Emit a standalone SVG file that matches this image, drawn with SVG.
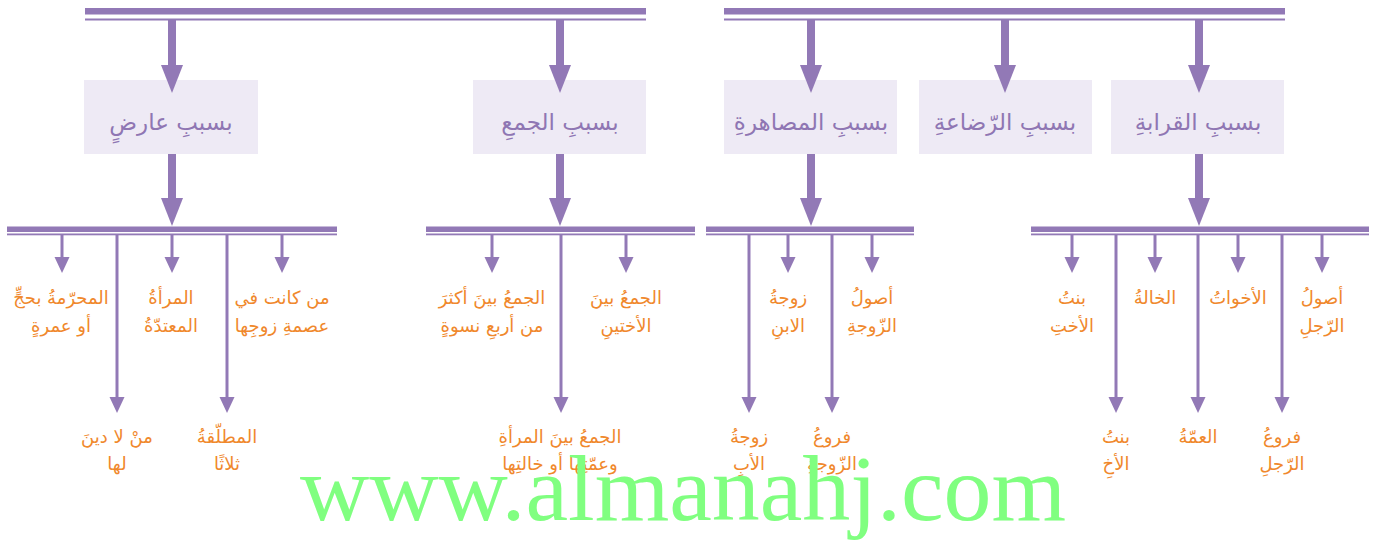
<svg xmlns="http://www.w3.org/2000/svg" width="1379" height="541" viewBox="0 0 1379 541">
  <defs>
    <style>
      .bar { fill: #9279b6; }
      .box { fill: #eeeaf5; }
      .box-text { font-family: "DejaVu Sans", "Noto Sans", sans-serif; font-size: 23px; fill: #8f76b3; text-anchor: middle; }
      .label { font-family: "DejaVu Sans", "Noto Sans", sans-serif; font-size: 18px; fill: #f0882c; text-anchor: middle; }
      .main { stroke: #9279b6; stroke-width: 8; fill: none; }
      .child { stroke: #9279b6; stroke-width: 3; fill: none; }
      .mark { font-family: "Liberation Serif", "Times New Roman", serif; font-size: 94px; fill: #80ff80; }
    </style>
    <marker id="head-main" markerUnits="userSpaceOnUse" markerWidth="30" markerHeight="24" viewBox="0 -12 30 24" refX="0" refY="0" orient="auto">
      <path d="M0,-11 L28,0 L0,11 Z" fill="#9279b6"/>
    </marker>
    <marker id="head-child" markerUnits="userSpaceOnUse" markerWidth="18" markerHeight="18" viewBox="0 -9 18 18" refX="0" refY="0" orient="auto">
      <path d="M0,-7.5 L16,0 L0,7.5 Z" fill="#9279b6"/>
    </marker>
  </defs>

  <!-- top double bars -->
  <g id="top-bars">
    <rect class="bar" x="85" y="8" width="561" height="6.5"/>
    <rect class="bar" x="85" y="18.5" width="561" height="2"/>
    <rect class="bar" x="724" y="8" width="561" height="6.5"/>
    <rect class="bar" x="724" y="18.5" width="561" height="2"/>
  </g>

  <!-- branch double bars -->
  <g id="branch-bars">
    <rect class="bar" x="7" y="226.5" width="330" height="5.5"/>
    <rect class="bar" x="7" y="233.5" width="330" height="1.8"/>
    <rect class="bar" x="426" y="226.5" width="269" height="5.5"/>
    <rect class="bar" x="426" y="233.5" width="269" height="1.8"/>
    <rect class="bar" x="706" y="226.5" width="208" height="5.5"/>
    <rect class="bar" x="706" y="233.5" width="208" height="1.8"/>
    <rect class="bar" x="1031" y="226.5" width="338" height="5.5"/>
    <rect class="bar" x="1031" y="233.5" width="338" height="1.8"/>
  </g>

  <!-- category boxes -->
  <g id="node-aarid">
    <rect class="box" x="84" y="80" width="174" height="74"/>
    <text class="box-text" x="171" y="130">بسببِ عارضٍ</text>
  </g>
  <g id="node-jam">
    <rect class="box" x="473" y="80" width="173" height="74"/>
    <text class="box-text" x="560" y="130">بسببِ الجمعِ</text>
  </g>
  <g id="node-musahara">
    <rect class="box" x="724" y="80" width="173" height="74"/>
    <text class="box-text" x="811" y="130">بسببِ المصاهرةِ</text>
  </g>
  <g id="node-rada">
    <rect class="box" x="919" y="80" width="173" height="74"/>
    <text class="box-text" x="1005" y="130">بسببِ الرّضاعةِ</text>
  </g>
  <g id="node-qaraba">
    <rect class="box" x="1111" y="80" width="173" height="74"/>
    <text class="box-text" x="1198" y="130">بسببِ القرابةِ</text>
  </g>

  <!-- connectors -->
  <g id="connectors">
    <!-- top bars to boxes -->
    <line class="main" x1="172" y1="20" x2="172" y2="65" marker-end="url(#head-main)"/>
    <line class="main" x1="560" y1="20" x2="560" y2="65" marker-end="url(#head-main)"/>
    <line class="main" x1="811" y1="20" x2="811" y2="65" marker-end="url(#head-main)"/>
    <line class="main" x1="1005" y1="20" x2="1005" y2="65" marker-end="url(#head-main)"/>
    <line class="main" x1="1199" y1="20" x2="1199" y2="65" marker-end="url(#head-main)"/>
    <!-- boxes to branch bars -->
    <line class="main" x1="172" y1="154" x2="172" y2="198" marker-end="url(#head-main)"/>
    <line class="main" x1="560" y1="154" x2="560" y2="198" marker-end="url(#head-main)"/>
    <line class="main" x1="811" y1="154" x2="811" y2="198" marker-end="url(#head-main)"/>
    <line class="main" x1="1199" y1="154" x2="1199" y2="198" marker-end="url(#head-main)"/>

    <!-- branch: عارض -->
    <line class="child" x1="62" y1="235" x2="62" y2="257" marker-end="url(#head-child)"/>
    <line class="child" x1="117" y1="235" x2="117" y2="397" marker-end="url(#head-child)"/>
    <line class="child" x1="172" y1="235" x2="172" y2="257" marker-end="url(#head-child)"/>
    <line class="child" x1="227" y1="235" x2="227" y2="397" marker-end="url(#head-child)"/>
    <line class="child" x1="282" y1="235" x2="282" y2="257" marker-end="url(#head-child)"/>

    <!-- branch: الجمع -->
    <line class="child" x1="492" y1="235" x2="492" y2="257" marker-end="url(#head-child)"/>
    <line class="child" x1="561" y1="235" x2="561" y2="397" marker-end="url(#head-child)"/>
    <line class="child" x1="626" y1="235" x2="626" y2="257" marker-end="url(#head-child)"/>

    <!-- branch: المصاهرة -->
    <line class="child" x1="749" y1="235" x2="749" y2="397" marker-end="url(#head-child)"/>
    <line class="child" x1="788" y1="235" x2="788" y2="257" marker-end="url(#head-child)"/>
    <line class="child" x1="832" y1="235" x2="832" y2="397" marker-end="url(#head-child)"/>
    <line class="child" x1="872" y1="235" x2="872" y2="257" marker-end="url(#head-child)"/>

    <!-- branch: القرابة -->
    <line class="child" x1="1072" y1="235" x2="1072" y2="257" marker-end="url(#head-child)"/>
    <line class="child" x1="1116" y1="235" x2="1116" y2="397" marker-end="url(#head-child)"/>
    <line class="child" x1="1155" y1="235" x2="1155" y2="257" marker-end="url(#head-child)"/>
    <line class="child" x1="1198" y1="235" x2="1198" y2="397" marker-end="url(#head-child)"/>
    <line class="child" x1="1238" y1="235" x2="1238" y2="257" marker-end="url(#head-child)"/>
    <line class="child" x1="1282" y1="235" x2="1282" y2="397" marker-end="url(#head-child)"/>
    <line class="child" x1="1322" y1="235" x2="1322" y2="257" marker-end="url(#head-child)"/>
  </g>

  <!-- leaf labels -->
  <g id="leaves-aarid">
    <text class="label" x="61" y="304"><tspan x="61">المحرّمةُ بحجٍّ</tspan><tspan x="61" dy="28">أو عمرةٍ</tspan></text>
    <text class="label" x="171" y="304"><tspan x="171">المرأةُ</tspan><tspan x="171" dy="28">المعتدّةُ</tspan></text>
    <text class="label" x="282" y="304"><tspan x="282">من كانت في</tspan><tspan x="282" dy="28">عصمةِ زوجِها</tspan></text>
    <text class="label" x="117" y="443"><tspan x="117">منْ لا دينَ</tspan><tspan x="117" dy="27">لها</tspan></text>
    <text class="label" x="227" y="443"><tspan x="227">المطلّقةُ</tspan><tspan x="227" dy="27">ثلاثًا</tspan></text>
  </g>
  <g id="leaves-jam">
    <text class="label" x="492" y="304"><tspan x="492">الجمعُ بينَ أكثرَ</tspan><tspan x="492" dy="28">من أربعِ نسوةٍ</tspan></text>
    <text class="label" x="626" y="304"><tspan x="626">الجمعُ بينَ</tspan><tspan x="626" dy="28">الأختينِ</tspan></text>
    <text class="label" x="560" y="443"><tspan x="560">الجمعُ بينَ المرأةِ</tspan><tspan x="560" dy="27">وعمّتِها أو خالتِها</tspan></text>
  </g>
  <g id="leaves-musahara">
    <text class="label" x="788" y="304"><tspan x="788">زوجةُ</tspan><tspan x="788" dy="28">الابنِ</tspan></text>
    <text class="label" x="872" y="304"><tspan x="872">أصولُ</tspan><tspan x="872" dy="28">الزّوجةِ</tspan></text>
    <text class="label" x="749" y="443"><tspan x="749">زوجةُ</tspan><tspan x="749" dy="27">الأبِ</tspan></text>
    <text class="label" x="832" y="443"><tspan x="832">فروعُ</tspan><tspan x="832" dy="27">الزّوجةِ</tspan></text>
  </g>
  <g id="leaves-qaraba">
    <text class="label" x="1072" y="304"><tspan x="1072">بنتُ</tspan><tspan x="1072" dy="28">الأختِ</tspan></text>
    <text class="label" x="1155" y="304">الخالةُ</text>
    <text class="label" x="1238" y="304">الأخواتُ</text>
    <text class="label" x="1322" y="304"><tspan x="1322">أصولُ</tspan><tspan x="1322" dy="28">الرّجلِ</tspan></text>
    <text class="label" x="1116" y="443"><tspan x="1116">بنتُ</tspan><tspan x="1116" dy="27">الأخِ</tspan></text>
    <text class="label" x="1198" y="443">العمّةُ</text>
    <text class="label" x="1282" y="443"><tspan x="1282">فروعُ</tspan><tspan x="1282" dy="27">الرّجلِ</tspan></text>
  </g>

  <!-- site mark across the bottom -->
  <text class="mark" x="300" y="520" textLength="766" lengthAdjust="spacingAndGlyphs">www.almanahj.com</text>
</svg>
